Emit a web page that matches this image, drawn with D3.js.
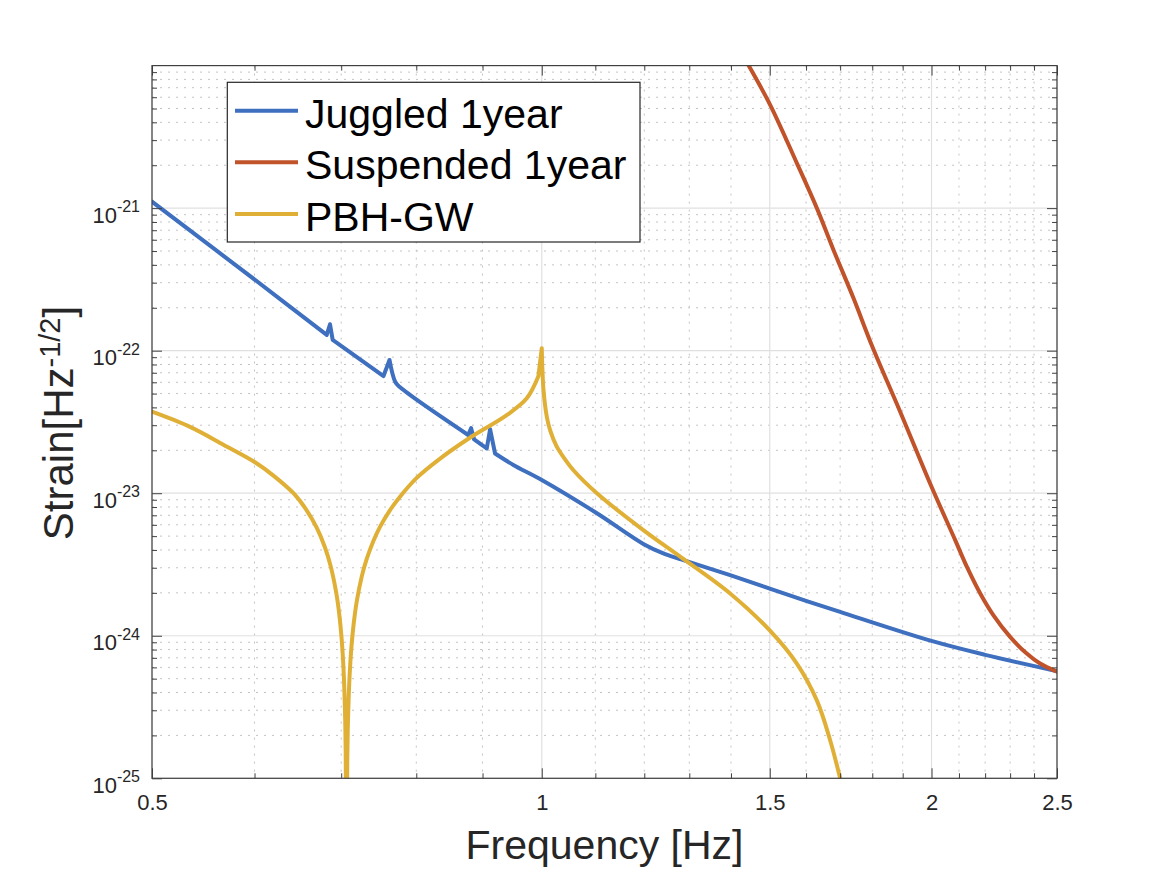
<!DOCTYPE html>
<html>
<head>
<meta charset="utf-8">
<script src="https://cdnjs.cloudflare.com/ajax/libs/d3/7.8.5/d3.min.js"></script>
<style>
    body { margin: 0; background: #fff; }
    text { font-family: "Liberation Sans", Arial, Helvetica, sans-serif; }
</style>
</head>
<body>
<div id="chart"></div>
<script>
// values (frequency in Hz, strain in Hz^-1/2)
let freqJuggled = [0.5, 0.6005, 0.6822, 0.6862, 0.6895, 0.7547, 0.7628, 0.7705, 0.7774, 0.8773, 0.8819, 0.8866,
    0.9068, 0.9122, 0.9203, 0.9507, 1.0, 1.103, 1.198, 1.24, 1.283, 1.398, 1.5, 1.602, 1.7, 2.0, 2.2, 2.5]
let strainJuggled = [1.11e-21, 3.14e-22, 1.29e-22, 1.53e-22, 1.19e-22, 6.64e-23, 8.61e-23, 6.06e-23, 5.53e-23, 2.56e-23, 2.86e-23, 2.39e-23,
    2.06e-23, 2.81e-23, 1.90e-23, 1.58e-23, 1.24e-23, 7.24e-24, 4.41e-24, 3.80e-24, 3.42e-24, 2.66e-24, 2.14e-24, 1.75e-24, 1.47e-24, 9.2e-25, 7.35e-25, 5.64e-25]

let freqSuspended = [1.43, 1.444, 1.501, 1.574, 1.631, 1.68, 1.741, 1.8, 1.894, 2.0, 2.086, 2.13, 2.181, 2.233, 2.3, 2.369, 2.426, 2.5]
let strainSuspended = [1.17e-20, 1.01e-20, 5.31e-21, 2.07e-21, 1.0e-21, 5.09e-22, 2.33e-22, 1.07e-22, 3.63e-23, 1.11e-23,
    4.69e-24, 3.04e-24, 1.98e-24, 1.39e-24, 9.82e-25, 7.50e-25, 6.38e-25, 5.60e-25]

let freqPBH = [0.5, 0.535, 0.5677, 0.6005, 0.6205, 0.643, 0.6585, 0.67, 0.68, 0.687, 0.694, 0.6977, 0.7006, 0.7026, 0.7046, 0.7056,
    0.7066,
    0.7076, 0.7086, 0.7106, 0.7126, 0.7156, 0.7196, 0.7261, 0.7325, 0.7411, 0.75, 0.7633, 0.775, 0.8006, 0.8346, 0.88, 0.9396, 0.9737, 0.994,
    1.0,
    1.003, 1.009, 1.0149, 1.027, 1.039, 1.058, 1.103, 1.198, 1.283, 1.398, 1.5, 1.574, 1.631, 1.67, 1.7, 1.706]
let strainPBH = [3.73e-23, 2.92e-23, 2.19e-23, 1.65e-23, 1.33e-23, 1.0e-23, 7.56e-24, 5.75e-24, 4.18e-24, 3.08e-24, 1.98e-24, 1.40e-24, 9.43e-25, 6.31e-25, 3.16e-25, 1.58e-25,
    1.0e-26,
    1.34e-25, 2.67e-25, 5.35e-25, 8.03e-25, 1.20e-24, 1.74e-24, 2.61e-24, 3.46e-24, 4.61e-24, 5.81e-24, 7.59e-24, 9.16e-24, 1.28e-23, 1.75e-23, 2.45e-23, 3.53e-23, 4.63e-23, 6.61e-23,
    1.04e-22,
    5.37e-23, 3.44e-23, 2.77e-23, 2.12e-23, 1.80e-23, 1.45e-23, 1.0e-23, 5.51e-24, 3.52e-24, 1.98e-24, 1.09e-24, 6.38e-25, 3.52e-25, 1.85e-25, 1.0e-25, 2.5e-26]

let seriesNames = ["Juggled 1year", "Suspended 1year", "PBH-GW"]
let seriesColors = ["#3f6fbf", "#c1532b", "#e0b036"]

let xTickValues = [0.5, 1, 1.5, 2, 2.5]
let xTickLabels = ["0.5", "1", "1.5", "2", "2.5"]
let yTickExponents = [-25, -24, -23, -22, -21]

let xLabel = "Frequency [Hz]"

let width = 1166, height = 875
let plot = { left: 152, top: 65.6, right: 1057, bottom: 778.3 }

let svg = d3.select("#chart")
    .append("svg")
    .attr("width", width)
    .attr("height", height)

svg.append("rect").attr("width", width).attr("height", height).attr("fill", "#fff")

let x = d3.scaleLog().domain([0.5, 2.5]).range([plot.left, plot.right])
let y = d3.scaleLog().domain([1e-25, 1e-20]).range([plot.bottom, plot.top])

// minor tick positions
let xMinor = d3.range(6, 25).filter(v => v % 5 !== 0).map(v => v / 10)
let yMinor = []
yTickExponents.forEach(e => {
    for (let m = 2; m <= 9; m++) yMinor.push(m * Math.pow(10, e))
})
let yMajor = yTickExponents.map(e => Math.pow(10, e))

//网格
let grid = svg.append("g")
grid.selectAll(".vminor").data(xMinor).enter().append("line")
    .attr("x1", d => x(d)).attr("x2", d => x(d))
    .attr("y1", plot.top).attr("y2", plot.bottom)
    .attr("stroke", "#c4c4c4").attr("stroke-width", 1).attr("stroke-dasharray", "2,6")
grid.selectAll(".hminor").data(yMinor).enter().append("line")
    .attr("y1", d => y(d)).attr("y2", d => y(d))
    .attr("x1", plot.left).attr("x2", plot.right)
    .attr("stroke", "#c4c4c4").attr("stroke-width", 1).attr("stroke-dasharray", "2,6")
grid.selectAll(".vmajor").data(xTickValues).enter().append("line")
    .attr("x1", d => x(d)).attr("x2", d => x(d))
    .attr("y1", plot.top).attr("y2", plot.bottom)
    .attr("stroke", "#e0e0e0").attr("stroke-width", 1.2)
grid.selectAll(".hmajor").data(yMajor).enter().append("line")
    .attr("y1", d => y(d)).attr("y2", d => y(d))
    .attr("x1", plot.left).attr("x2", plot.right)
    .attr("stroke", "#e0e0e0").attr("stroke-width", 1.2)

//曲线
svg.append("clipPath").attr("id", "plotClip")
    .append("rect")
    .attr("x", plot.left).attr("y", plot.top)
    .attr("width", plot.right - plot.left).attr("height", plot.bottom - plot.top)

let line = d3.line().curve(d3.curveCatmullRom.alpha(0.5))

// break a curve at turning points and sudden slope changes so spikes and cusps stay sharp
function splitAtTurns(points) {
    let pieces = [], cur = [points[0]], dir = 0, prevSlope = null
    for (let i = 1; i < points.length; i++) {
        let dy = points[i][1] - points[i - 1][1]
        let slope = Math.abs(dy / Math.max(points[i][0] - points[i - 1][0], 1e-6))
        let d = Math.sign(dy)
        let turn = dir !== 0 && d !== 0 && d !== dir
        let kink = prevSlope !== null && Math.max(slope, prevSlope) > 3 &&
            Math.max(slope, prevSlope) / Math.max(Math.min(slope, prevSlope), 1e-6) > 4
        if (turn || kink) {
            pieces.push(cur)
            cur = [points[i - 1]]
        }
        if (d !== 0) dir = d
        prevSlope = slope
        cur.push(points[i])
    }
    pieces.push(cur)
    return pieces
}

let series = [
    { freq: freqJuggled, strain: strainJuggled },
    { freq: freqSuspended, strain: strainSuspended },
    { freq: freqPBH, strain: strainPBH }
]

let curves = svg.append("g").attr("clip-path", "url(#plotClip)")
curves.selectAll("path")
    .data(series)
    .enter()
    .append("path")
    .attr("d", function (s) {
        let pts = s.freq.map((f, i) => [x(f), y(s.strain[i])])
        return splitAtTurns(pts).map(p => line(p)).join("")
    })
    .attr("fill", "none")
    .attr("stroke", (d, i) => seriesColors[i])
    .attr("stroke-width", 4)
    .attr("stroke-linejoin", "round")
    .attr("stroke-linecap", "round")

//坐标轴
let axisColor = "#404040"
function styleAxis(g) {
    g.select(".domain").remove()
    g.selectAll(".tick line").attr("stroke", axisColor).attr("stroke-width", 1)
}

let bottomAxis = svg.append("g")
    .attr("transform", "translate(0," + plot.bottom + ")")
    .call(d3.axisBottom(x).tickValues(xTickValues).tickSize(-10).tickSizeOuter(0).tickPadding(16.5)
        .tickFormat((d, i) => xTickLabels[i]))
styleAxis(bottomAxis)
bottomAxis.selectAll("text").attr("font-size", 22).attr("fill", "#262626")
    .attr("font-family", "'Liberation Sans', Arial, sans-serif")

svg.append("g").attr("transform", "translate(0," + plot.bottom + ")")
    .call(d3.axisBottom(x).tickValues(xMinor).tickSize(-5).tickSizeOuter(0).tickFormat(""))
    .call(styleAxis)
svg.append("g").attr("transform", "translate(0," + plot.top + ")")
    .call(d3.axisTop(x).tickValues(xTickValues).tickSize(-10).tickSizeOuter(0).tickFormat(""))
    .call(styleAxis)
svg.append("g").attr("transform", "translate(0," + plot.top + ")")
    .call(d3.axisTop(x).tickValues(xMinor).tickSize(-5).tickSizeOuter(0).tickFormat(""))
    .call(styleAxis)

let leftAxis = svg.append("g")
    .attr("transform", "translate(" + plot.left + ",0)")
    .call(d3.axisLeft(y).tickValues(yMajor).tickSize(-10).tickSizeOuter(0).tickPadding(12).tickFormat(""))
styleAxis(leftAxis)
leftAxis.selectAll(".tick text")
    .attr("dy", null)
    .attr("y", 14)
    .attr("font-size", 22)
    .attr("fill", "#262626")
    .attr("font-family", "'Liberation Sans', Arial, sans-serif")
    .each(function (d, i) {
        let t = d3.select(this)
        t.append("tspan").text("10")
        t.append("tspan").attr("dy", -10.5).attr("font-size", 16).text(String(yTickExponents[i]))
    })

svg.append("g").attr("transform", "translate(" + plot.left + ",0)")
    .call(d3.axisLeft(y).tickValues(yMinor).tickSize(-5).tickSizeOuter(0).tickFormat(""))
    .call(styleAxis)
svg.append("g").attr("transform", "translate(" + plot.right + ",0)")
    .call(d3.axisRight(y).tickValues(yMajor).tickSize(-10).tickSizeOuter(0).tickFormat(""))
    .call(styleAxis)
svg.append("g").attr("transform", "translate(" + plot.right + ",0)")
    .call(d3.axisRight(y).tickValues(yMinor).tickSize(-5).tickSizeOuter(0).tickFormat(""))
    .call(styleAxis)

// box around the axes
svg.append("rect")
    .attr("x", plot.left).attr("y", plot.top)
    .attr("width", plot.right - plot.left).attr("height", plot.bottom - plot.top)
    .attr("fill", "none").attr("stroke", axisColor).attr("stroke-width", 1.2)

//坐标轴标题
svg.append("text")
    .attr("x", (plot.left + plot.right) / 2)
    .attr("y", 859)
    .attr("text-anchor", "middle")
    .attr("font-size", 41)
    .attr("fill", "#262626")
    .text(xLabel)

let yTitle = svg.append("text")
    .attr("transform", "translate(73,423) rotate(-90)")
    .attr("text-anchor", "middle")
    .attr("font-size", 42)
    .attr("fill", "#262626")
yTitle.append("tspan").text("Strain[Hz")
yTitle.append("tspan").attr("dy", -13).attr("font-size", 29).text("-1/2")
yTitle.append("tspan").attr("dy", 13).text("]")

//图例
let legend = { x: 227.3, y: 82.3, w: 412.7, h: 159.7, rowTop: 110.7, rowGap: 51.65 }
let lg = svg.append("g")
lg.append("rect")
    .attr("x", legend.x).attr("y", legend.y)
    .attr("width", legend.w).attr("height", legend.h)
    .attr("fill", "#fff").attr("stroke", "#262626").attr("stroke-width", 1.2)

let items = lg.selectAll(".legendItem")
    .data(seriesNames)
    .enter()
    .append("g")
    .attr("class", "legendItem")
    .attr("transform", (d, i) => "translate(0," + (legend.rowTop + i * legend.rowGap) + ")")
items.append("line")
    .attr("x1", 235).attr("x2", 298)
    .attr("stroke", (d, i) => seriesColors[i])
    .attr("stroke-width", 4)
items.append("text")
    .attr("x", 305).attr("y", 17)
    .attr("font-size", 41)
    .attr("fill", "#000")
    .text(d => d)
</script>
</body>
</html>
